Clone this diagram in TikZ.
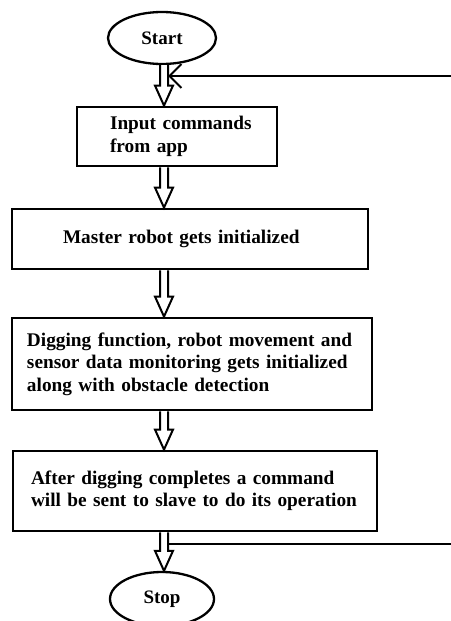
\documentclass[tikz,border=0pt]{standalone}
\usepackage{fontspec}
\setmainfont{Liberation Serif}
\usetikzlibrary{shapes.geometric,arrows.meta,calc}
\tikzset{
  stepbox/.style={draw, line width=2.8pt, rectangle, align=left,
    font=\fontsize{19.3}{22.5}\selectfont\bfseries, inner ysep=0pt},
  term/.style={draw, ellipse, line width=2.3pt, inner sep=0pt,
    font=\fontsize{19}{20}\selectfont\bfseries},
  blk/.style={draw, line width=2pt, fill=white, line join=miter},
  loopline/.style={line width=2.8pt},
}
\newcommand{\blkarrow}[2]{%
  \path (#1.south -| ax) coordinate (ba1) (#2.north -| ax) coordinate (ba2);
  \draw[blk] ($(ba1)+(-4,0)$) -- ($(ba2)+(-4,-20)$) -- ($(ba2)+(-9,-20)$) -- (ba2)
    -- ($(ba2)+(9,-20)$) -- ($(ba2)+(4,-20)$) -- ($(ba1)+(4,0)$);
}
\begin{document}
\begin{tikzpicture}[x=1pt,y=-1pt]
\useasboundingbox (0,0) rectangle (450,621);
\coordinate (ax) at (164,0);
\coordinate (shr) at (168,0);
\coordinate (loopin) at (451,76);
\coordinate (loopout) at (451,544);

\node[term, minimum width=108pt, minimum height=52pt] (start) at (162,38) {Start};
\node[stepbox, minimum height=59pt, text width=134pt, inner xsep=33pt] (b1) at (177,136.5)
  {\mbox{Input commands}\\\mbox{from app}};
\node[stepbox, minimum height=60pt, text width=254pt, inner xsep=51pt] (b2) at (190,239)
  {\mbox{Master robot gets initialized}};
\node[stepbox, minimum height=92pt, text width=330pt, inner xsep=15pt] (b3) at (192,364)
  {\mbox{Digging function, robot movement and}\\\mbox{sensor data monitoring gets initialized}\\\mbox{along with obstacle detection}};
\node[stepbox, minimum height=80pt, text width=328pt, inner xsep=18pt] (b4) at (195,491)
  {\mbox{After digging completes a command}\\\mbox{will be sent to slave to do its operation}};
\node[term, minimum width=104pt, minimum height=54pt] (stop) at (162,599) {Stop};

\blkarrow{start}{b1}
\blkarrow{b1}{b2}
\blkarrow{b2}{b3}
\blkarrow{b3}{b4}
\blkarrow{b4}{stop}

\draw[loopline, -{Straight Barb[length=12pt,width=24pt,line width=2pt]}] (loopin) -- (loopin -| shr);
\draw[loopline] (loopout -| shr) -- (loopout);
\end{tikzpicture}
\end{document}
